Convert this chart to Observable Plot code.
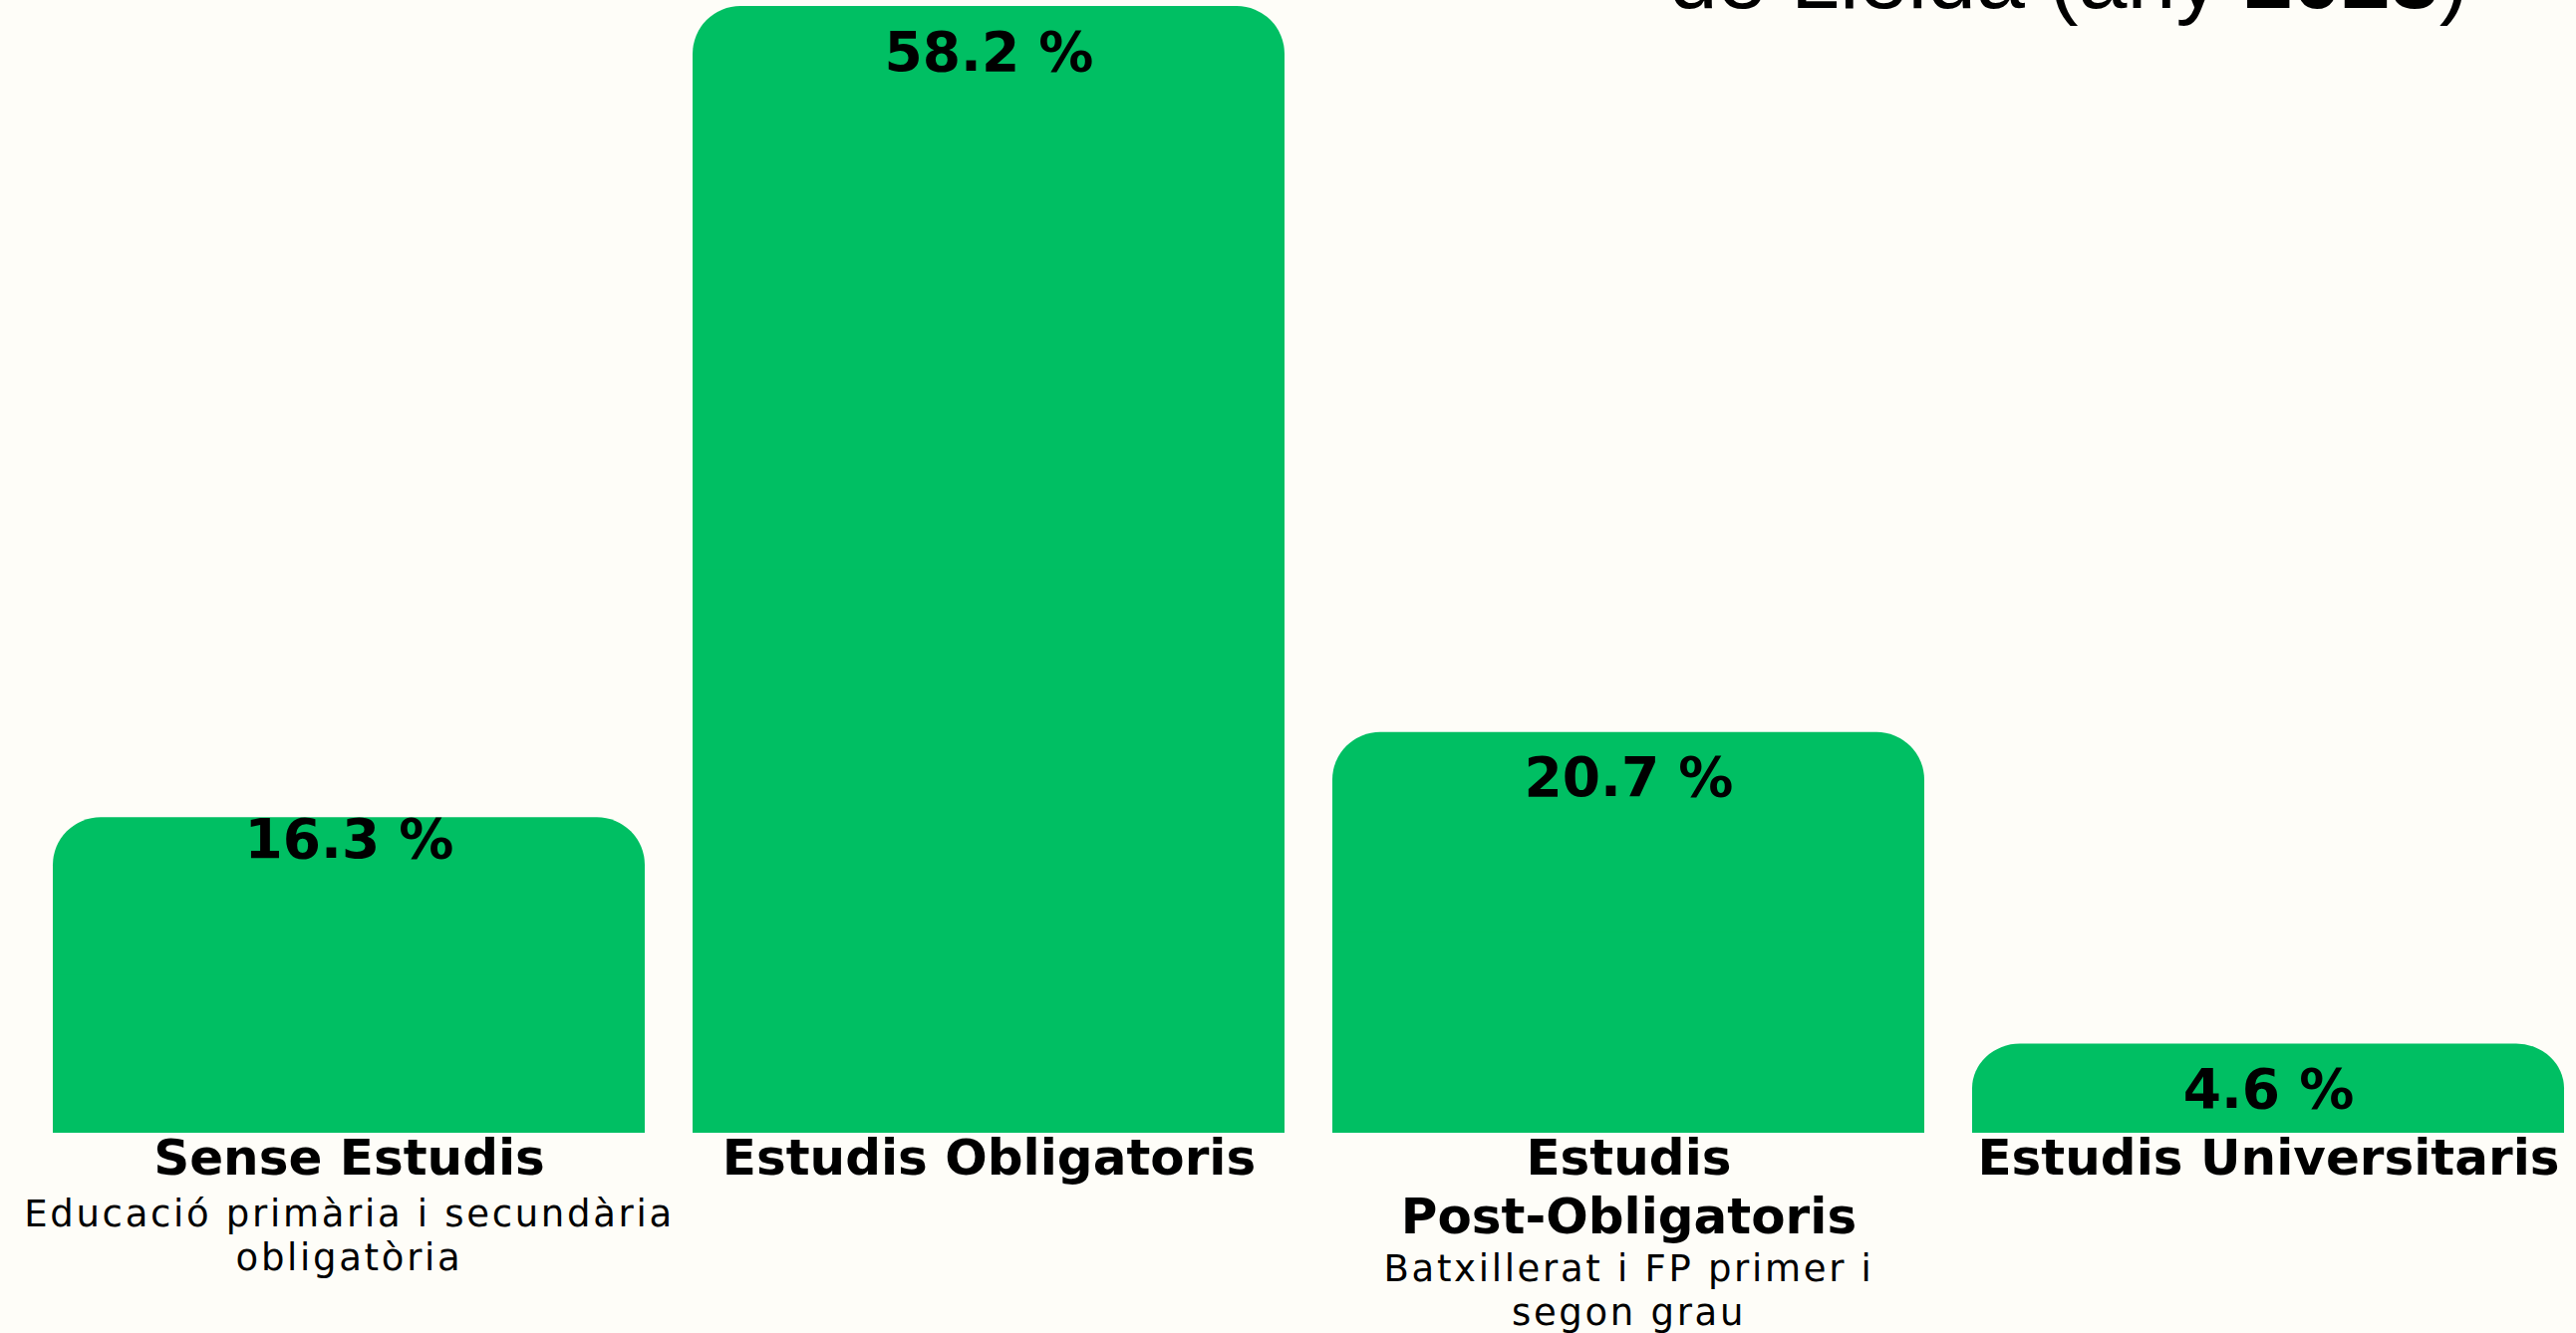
<!DOCTYPE html>
<html>
<head>
<meta charset="utf-8">
<script src="https://cdn.jsdelivr.net/npm/d3@7"></script>
<script src="https://cdn.jsdelivr.net/npm/@observablehq/plot@0.6"></script>
<style>
  html, body { margin: 0; padding: 0; background: #FEFDF8; overflow: hidden; }
  #wrap { position: relative; width: 2585px; height: 1338px; }
  #title {
    position: absolute; right: 108px; top: -66px;
    font-family: "Liberation Sans", Arial, sans-serif; font-size: 88px; line-height: 88px;
    white-space: nowrap; color: #000;
  }
  #title b { font-weight: bold; }
  .sub text, g[font-size="37"] text { letter-spacing: 2.7px; }
</style>
</head>
<body>
<div id="wrap"><div id="title">de Lleida (any <b>2023</b>)</div></div>
<script>
const categories = ["Sense Estudis", "Estudis Obligatoris", "Estudis\nPost-Obligatoris", "Estudis Universitaris"];
const subtitles = ["Educació primària i secundària\nobligatòria", "", "Batxillerat i FP primer i\nsegon grau", ""];
const values = [16.3, 58.2, 20.7, 4.6];
const valueLabels = ["16.3 %", "58.2 %", "20.7 %", "4.6 %"];

const data = categories.map((c, i) => ({category: c, sub: subtitles[i], value: values[i], label: valueLabels[i], i}));

const green = "#00BF63";
const boldFont = "DejaVu Sans";

const chart = Plot.plot({
  width: 2585,
  height: 1338,
  marginLeft: 51,
  marginRight: 11,
  marginTop: 6,
  marginBottom: 201,
  x: {domain: categories, paddingInner: 0.075, paddingOuter: 0, axis: null},
  y: {domain: [0, 58.2], axis: null},
  style: {background: "transparent", overflow: "visible"},
  marks: [
    Plot.barY(data, {x: "category", y: "value", fill: green, rx: 48}),
    Plot.barY(data, {x: "category", y: d => d.value / 2, fill: green}),
    Plot.text(data.filter(d => d.i === 0), {
      x: "category", y: "value", text: "label", lineAnchor: "top", dy: 1,
      fontSize: 55, fontWeight: "bold", fontFamily: boldFont, fill: "#000"
    }),
    Plot.text(data.filter(d => d.i > 0), {
      x: "category", y: "value", text: "label", lineAnchor: "top", dy: 25,
      fontSize: 55, fontWeight: "bold", fontFamily: boldFont, fill: "#000"
    }),
    Plot.text(data, {
      x: "category", y: 0, text: "category", lineAnchor: "top", dy: 0,
      fontSize: 50, fontWeight: "bold", lineHeight: 1.18, fontFamily: boldFont, fill: "#000"
    }),
    Plot.text(data.filter(d => d.sub && !d.category.includes("\n")), {
      x: "category", y: 0, text: "sub", lineAnchor: "top", dy: 62,
      fontSize: 37, lineHeight: 1.19, fontFamily: "DejaVu Sans", fill: "#000", className: "sub"
    }),
    Plot.text(data.filter(d => d.sub && d.category.includes("\n")), {
      x: "category", y: 0, text: "sub", lineAnchor: "top", dy: 117,
      fontSize: 37, lineHeight: 1.19, fontFamily: "DejaVu Sans", fill: "#000", className: "sub"
    })
  ]
});
document.getElementById("wrap").prepend(chart);
</script>
</body>
</html>
